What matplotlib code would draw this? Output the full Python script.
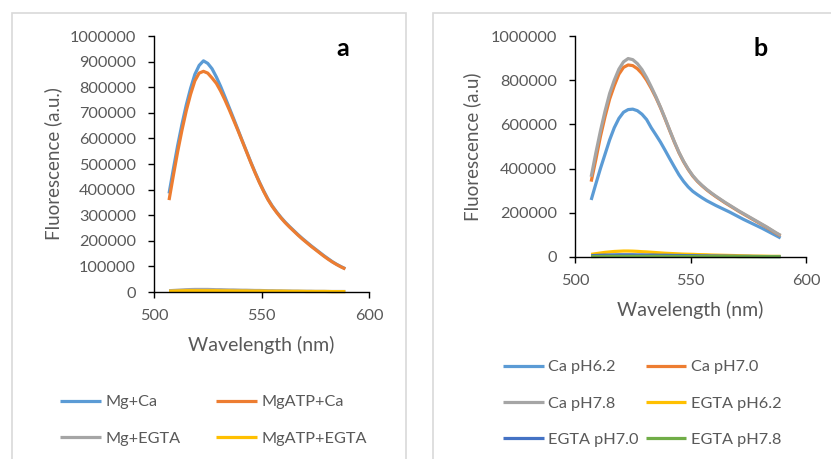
import matplotlib
matplotlib.use("Agg")
import matplotlib.pyplot as plt
from matplotlib.patches import Rectangle
from matplotlib.ticker import FuncFormatter

plt.rcParams['font.family'] = ['Lato', 'DejaVu Sans']

# ---------------- data ----------------
wavelength = list(range(507, 590, 2))  # 507 .. 589 nm

# Panel a (values in thousands of a.u.)
mg_ca = [385, 480, 572, 655, 730, 795, 850, 885, 903, 893, 872, 840, 803, 762, 720,
         678, 635, 592, 550, 508, 468, 430, 395, 363, 336, 313, 292, 273, 256, 240,
         224, 209, 195, 181, 168, 155, 142, 130, 118, 108, 99, 91]
mgatp_ca = [359, 455, 548, 632, 708, 772, 825, 855, 862, 855, 836, 815, 785, 750, 712,
            672, 632, 590, 548, 506, 466, 428, 393, 361, 334, 311, 290, 271, 254, 238,
            222, 207, 193, 179, 166, 153, 140, 128, 117, 107, 98, 90]
mg_egta = [5, 6, 7, 8, 9, 9.5, 10, 10, 10, 10, 9.5, 9, 9, 8.5, 8,
           8, 7.5, 7, 7, 6.5, 6, 6, 5.5, 5, 5, 4.5, 4.5, 4, 4, 3.5,
           3.5, 3, 3, 3, 2.5, 2.5, 2.5, 2, 2, 2, 2, 2]
mgatp_egta = [3, 3.5, 4, 4.5, 5, 5, 5, 5, 5, 5, 5, 5, 4.5, 4.5, 4.5,
              4, 4, 4, 4, 3.5, 3.5, 3.5, 3.5, 3, 3, 3, 3, 3, 2.5, 2.5,
              2.5, 2.5, 2, 2, 2, 2, 2, 2, 1.5, 1.5, 1.5, 1.5]

# Panel b (values in thousands of a.u.)
ca_62 = [258, 330, 400, 465, 530, 585, 627, 655, 667, 669, 662, 646, 622, 585, 553,
         520, 483, 445, 408, 372, 342, 317, 297, 282, 268, 255, 244, 233, 223, 213,
         203, 192, 181, 170, 160, 150, 140, 130, 119, 108, 97, 86]
ca_70 = [341, 440, 545, 635, 715, 775, 827, 858, 869, 866, 852, 830, 800, 763, 722,
         676, 625, 572, 520, 472, 431, 396, 366, 342, 322, 304, 288, 273, 259, 245,
         232, 219, 206, 194, 182, 170, 158, 146, 134, 121, 108, 96]
ca_78 = [363, 470, 570, 660, 740, 800, 850, 883, 898, 893, 875, 848, 812, 770, 726,
         678, 627, 574, 522, 474, 433, 398, 368, 344, 324, 306, 290, 275, 261, 247,
         234, 221, 208, 196, 184, 172, 160, 148, 136, 123, 110, 98]
egta_62 = [12, 15, 18, 21, 23, 25, 26, 27, 27, 26.5, 25.5, 24, 23, 21.5, 20,
           18.5, 17, 16, 15, 14, 13, 12.5, 12, 11, 10.5, 10, 9, 8.5, 8, 7.5,
           7, 6.5, 6, 5.5, 5, 4.5, 4, 4, 3.5, 3, 3, 3]
egta_70 = [6, 7, 8, 8.5, 9, 9.5, 10, 10, 10, 10, 9.5, 9.5, 9, 9, 8.5,
           8, 8, 7.5, 7, 7, 6.5, 6, 6, 5.5, 5, 5, 4.5, 4.5, 4, 4,
           3.5, 3.5, 3, 3, 3, 2.5, 2.5, 2, 2, 2, 2, 2]
egta_78 = [2, 2, 2.5, 2.5, 3, 3, 3, 3, 3, 3, 3, 3, 3, 3, 3,
           3, 2.5, 2.5, 2.5, 2.5, 2.5, 2.5, 2, 2, 2, 2, 2, 2, 2, 2,
           2, 2, 1.5, 1.5, 1.5, 1.5, 1.5, 1.5, 1.5, 1.5, 1.5, 1.5]

labels_a = ["Mg+Ca", "MgATP+Ca", "Mg+EGTA", "MgATP+EGTA"]
labels_b = ["Ca pH6.2", "Ca pH7.0", "Ca pH7.8", "EGTA pH6.2", "EGTA pH7.0", "EGTA pH7.8"]

yticks_a = list(range(0, 1000001, 100000))
yticks_b = list(range(0, 1000001, 200000))
xticks = [500, 550, 600]

C_BLUE = "#5B9BD5"
C_ORANGE = "#ED7D31"
C_GRAY = "#A5A5A5"
C_YELLOW = "#FFC000"
C_DBLUE = "#4472C4"
C_GREEN = "#70AD47"
TXT = "#595959"

W, H = 831, 459
fig = plt.figure(figsize=(W / 100, H / 100), dpi=100)

# panel borders
fig.patches.append(Rectangle((12 / W, -0.05), (406 - 12) / W, (459 - 13) / H + 0.05,
                             transform=fig.transFigure, fill=False, ec="#D9D9D9", lw=1.2))
fig.patches.append(Rectangle((433 / W, -0.05), (840 - 433) / W, (459 - 13) / H + 0.05,
                             transform=fig.transFigure, fill=False, ec="#D9D9D9", lw=1.2))

FS_TICK = 11.7
FS_LAB = 13.5
FS_LEG = 11.7


def scaled(vals):
    return [v * 1000 for v in vals]


def style_axes(ax, yticks):
    ax.set_xlim(500, 600)
    ax.set_ylim(0, 1000000)
    ax.set_xticks(xticks)
    ax.set_yticks(yticks)
    ax.yaxis.set_major_formatter(FuncFormatter(lambda v, p: f"{int(v)}"))
    for s in ["top", "right"]:
        ax.spines[s].set_visible(False)
    for s in ["left", "bottom"]:
        ax.spines[s].set_color("black")
        ax.spines[s].set_linewidth(1.0)
    ax.tick_params(axis="both", direction="out", length=4.5, width=1.0, colors="black",
                   labelcolor=TXT, labelsize=FS_TICK)
    ax.tick_params(axis="y", pad=8.5)
    ax.tick_params(axis="x", pad=8)
    ax.set_xlabel("Wavelength (nm)", color=TXT, fontsize=FS_LAB + 0.5, labelpad=9)


def row_order(items, ncol):
    # matplotlib fills legend columns first; reorder so entries read row by row
    nrow = (len(items) + ncol - 1) // ncol
    return [items[r * ncol + c] for c in range(ncol) for r in range(nrow)]


lw = 2.3

# ---- panel a ----
ax1 = fig.add_axes([154 / W, (H - 292) / H, 215 / W, 256 / H])
series_a = [(mg_ca, C_BLUE), (mgatp_ca, C_ORANGE), (mg_egta, C_GRAY), (mgatp_egta, C_YELLOW)]
handles_a = []
for (vals, c), lab in zip(series_a, labels_a):
    h, = ax1.plot(wavelength, scaled(vals), color=c, lw=lw, label=lab, clip_on=False,
                  solid_capstyle="butt")
    handles_a.append(h)
style_axes(ax1, yticks_a)
ax1.set_ylabel("Fluorescence (a.u.)", color=TXT, fontsize=FS_LAB, labelpad=5.5)
ax1.text(343 / W, 1 - 49 / H, "a", transform=fig.transFigure, fontsize=18, fontweight="bold",
         ha="center", va="center", color="black")

fig.legend(handles=row_order(handles_a, 2), labels=row_order(labels_a, 2), ncol=2,
           loc="upper left", bbox_to_anchor=(60 / W, 1 - 395 / H), frameon=False,
           fontsize=FS_LEG, handlelength=2.5, handletextpad=0.3, columnspacing=2.2,
           labelcolor=TXT, labelspacing=1.35, borderpad=0, borderaxespad=0)

# ---- panel b ----
ax2 = fig.add_axes([575 / W, (H - 257) / H, 231 / W, 221 / H])
series_b = [(ca_62, C_BLUE), (ca_70, C_ORANGE), (ca_78, C_GRAY), (egta_62, C_YELLOW),
            (egta_70, C_DBLUE), (egta_78, C_GREEN)]
handles_b = []
for (vals, c), lab in zip(series_b, labels_b):
    h, = ax2.plot(wavelength, scaled(vals), color=c, lw=lw, label=lab, clip_on=False,
                  solid_capstyle="butt")
    handles_b.append(h)
style_axes(ax2, yticks_b)
ax2.set_ylabel("Fluorescence (a.u)", color=TXT, fontsize=FS_LAB, labelpad=6.5)
ax2.text(761 / W, 1 - 48 / H, "b", transform=fig.transFigure, fontsize=18, fontweight="bold",
         ha="center", va="center", color="black")

fig.legend(handles=row_order(handles_b, 2), labels=row_order(labels_b, 2), ncol=2,
           loc="upper left", bbox_to_anchor=(503 / W, 1 - 360 / H), frameon=False,
           fontsize=FS_LEG, handlelength=2.5, handletextpad=0.3, columnspacing=0.4,
           labelcolor=TXT, labelspacing=1.35, borderpad=0, borderaxespad=0)

fig.savefig("out.png", dpi=100)
